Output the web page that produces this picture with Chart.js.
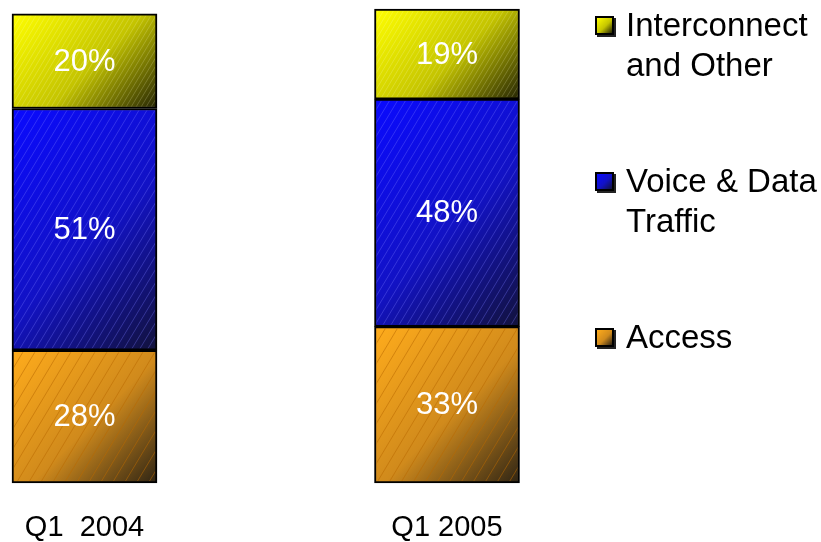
<!DOCTYPE html>
<html>
<head>
<meta charset="utf-8">
<script src="https://cdn.jsdelivr.net/npm/chart.js@4"></script>
<style>
  html, body { margin: 0; padding: 0; background: #fff; }
  #wrap { position: relative; width: 821px; height: 542px; overflow: hidden; }
  #chart { position: absolute; left: 0; top: 0; }
  #legend { position: absolute; left: 595px; top: 0; font-family: "Liberation Sans", Arial, sans-serif; font-size: 33px; line-height: 40px; color: #000; }
  .item { position: absolute; left: 0; white-space: nowrap; }
  .box { position: absolute; left: 0; top: 11px; width: 15px; height: 15px; border: 2px solid #000; box-shadow: 2px 2px 0 #222; }
  .txt { position: absolute; left: 31px; top: 0; }
</style>
</head>
<body>
<div id="wrap">
  <canvas id="chart" width="821" height="542"></canvas>
  <div id="legend"></div>
</div>
<script>
const categories = ["Q1  2004", "Q1 2005"];
const access = [28, 33];
const voiceData = [51, 48];
const interconnect = [20, 19];
const seriesNames = ["Access", ["Voice & Data", "Traffic"], ["Interconnect", "and Other"]];

const FONT = "'Liberation Sans', Arial, sans-serif";
const BAR_W = 145;

// light -> mid -> dark colours, plus a hatch colour / spacing per series
const looks = [
  { c0: "#ffac1c", cm: "#d08a1c", c1: "#2e2414", hatch: "rgba(185,105,0,0.55)", step: 12 },
  { c0: "#0a0aff", cm: "#1212c4", c1: "#12123a", hatch: "rgba(120,120,255,0.35)", step: 8 },
  { c0: "#ffff00", cm: "#c4c400", c1: "#242404", hatch: "rgba(255,255,210,0.2)", step: 5 }
];

function shade(look) {
  return (ctx) => {
    const chart = ctx.chart;
    const xs = chart.scales.x, ys = chart.scales.y;
    if (ctx.type !== "data" || !xs || !ys) return look.cm;
    const i = ctx.dataIndex;
    let start = 0;
    for (let k = 0; k < ctx.datasetIndex; k++) start += chart.data.datasets[k].data[i];
    const end = start + chart.data.datasets[ctx.datasetIndex].data[i];
    const cx = xs.getPixelForValue(i);
    const yTop = ys.getPixelForValue(end), yBot = ys.getPixelForValue(start);
    if (![cx, yTop, yBot].every(Number.isFinite)) return look.cm;
    // 45 degree sweep from the top-left corner to the bottom-right corner
    const L = (BAR_W + (yBot - yTop)) / 2;
    const x0 = cx - BAR_W / 2;
    const g = chart.ctx.createLinearGradient(x0, yTop, x0 + L, yTop + L);
    g.addColorStop(0, look.c0);
    g.addColorStop(0.55, look.cm);
    g.addColorStop(1, look.c1);
    return g;
  };
}

const values = [access, voiceData, interconnect];
const datasets = values.map((v, d) => ({
  label: Array.isArray(seriesNames[d]) ? seriesNames[d].join(" ") : seriesNames[d],
  data: v,
  backgroundColor: shade(looks[d]),
  borderColor: "#000",
  borderWidth: 2,
  borderSkipped: false,
  barThickness: BAR_W,
  clip: false
}));

// hatch lines + value labels over each segment
const barDecor = {
  id: "barDecor",
  afterDatasetsDraw(chart) {
    const ctx = chart.ctx;
    chart.data.datasets.forEach((ds, d) => {
      const look = looks[d];
      chart.getDatasetMeta(d).data.forEach((bar, i) => {
        const { x, y, base, width } = bar.getProps(["x", "y", "base", "width"], true);
        const left = x - width / 2, h = base - y, run = h * 0.6;
        ctx.save();
        ctx.beginPath();
        ctx.rect(left + 2, y + 2, width - 4, h - 4);
        ctx.clip();
        ctx.strokeStyle = look.hatch;
        ctx.lineWidth = 1;
        ctx.beginPath();
        for (let k = -run; k < width; k += look.step) {
          ctx.moveTo(left + k, base);
          ctx.lineTo(left + k + run, y);
        }
        ctx.stroke();
        ctx.restore();

        ctx.save();
        ctx.fillStyle = "#fff";
        ctx.font = "31px " + FONT;
        ctx.textAlign = "center";
        ctx.textBaseline = "middle";
        ctx.fillText(ds.data[i] + "%", x, (y + base) / 2 + 1);
        ctx.restore();
      });
    });
  }
};

const chart = new Chart(document.getElementById("chart"), {
  type: "bar",
  data: { labels: categories, datasets: datasets },
  options: {
    responsive: false,
    animation: false,
    layout: { padding: { left: 84.5, right: 374, top: 9, bottom: 0 } },
    plugins: { legend: { display: false }, tooltip: { enabled: false } },
    scales: {
      x: {
        stacked: true,
        offset: false,
        grid: { display: false, drawTicks: false },
        border: { display: false },
        ticks: { padding: 30, color: "#000", maxRotation: 0, font: { family: FONT, size: 29, lineHeight: 1 } },
        afterFit(scale) {
          scale.height = 59;
          scale.paddingLeft = 0;
          scale.paddingRight = 0;
        }
      },
      y: { stacked: true, display: false, min: 0, max: 100 }
    }
  },
  plugins: [barDecor]
});

// legend, top to bottom in reverse stack order
const legend = document.getElementById("legend");
const tops = [317, 161, 5];
values.forEach((v, d) => {
  const item = document.createElement("div");
  item.className = "item";
  item.style.top = tops[d] + "px";
  const box = document.createElement("div");
  box.className = "box";
  box.style.background = "linear-gradient(135deg, " + looks[d].c0 + ", " + looks[d].cm + " 55%, " + looks[d].c1 + ")";
  const txt = document.createElement("div");
  txt.className = "txt";
  const name = seriesNames[d];
  txt.innerHTML = Array.isArray(name) ? name.map(s => s.replace("&", "&amp;")).join("<br>") : name;
  item.appendChild(box);
  item.appendChild(txt);
  legend.appendChild(item);
});
</script>
</body>
</html>
